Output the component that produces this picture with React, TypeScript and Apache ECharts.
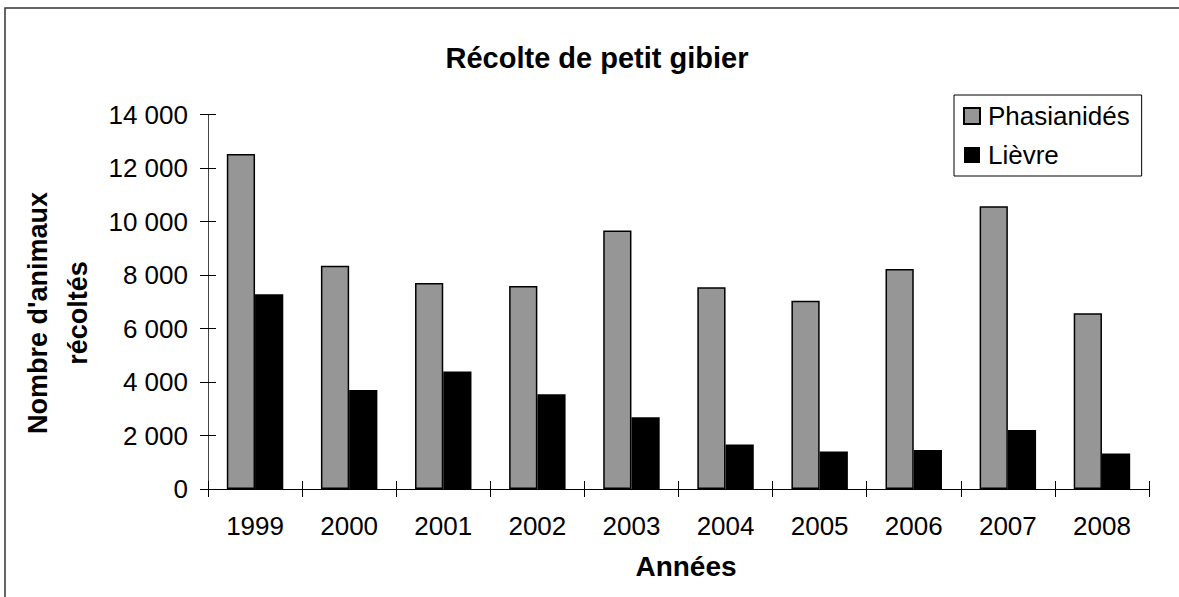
import React, { useEffect, useRef } from "react";
import * as echarts from "echarts";

const years = ["1999", "2000", "2001", "2002", "2003", "2004", "2005", "2006", "2007", "2008"];
const phasianides = [12520, 8350, 7700, 7590, 9660, 7540, 7040, 8220, 10570, 6570];
const lievre = [7280, 3700, 4390, 3540, 2680, 1660, 1400, 1460, 2210, 1330];
const yMin = 0;
const yMax = 14000;
const yInterval = 2000;

const FONT = "'Liberation Sans', Arial, sans-serif";
const fmt = (v: number) => String(v).replace(/\B(?=(\d{3})+(?!\d))/g, " ");

export default function App() {
  const ref = useRef<HTMLDivElement>(null);
  useEffect(() => {
    if (!ref.current) return;
    const chart = echarts.init(ref.current, undefined, { renderer: "svg" });
    const grid = { left: 208, top: 114.5, right: 30, bottom: 108, containLabel: false };
    chart.setOption({
      animation: false,
      backgroundColor: "#fff",
      textStyle: { fontFamily: FONT },
      title: {
        text: "Récolte de petit gibier",
        left: 592,
        top: 38,
        textAlign: "center",
        textStyle: { fontFamily: FONT, fontSize: 29, fontWeight: "bold", color: "#000" },
      },
      legend: {
        orient: "vertical",
        left: 954,
        top: 95,
        padding: [8, 12, 8, 9],
        itemWidth: 16,
        itemHeight: 16,
        itemGap: 13,
        borderColor: "#000",
        borderWidth: 1,
        icon: "rect",
        textStyle: { fontFamily: FONT, fontSize: 26, color: "#000", padding: [0, 0, 0, 3] },
        data: ["Phasianidés", "Lièvre"],
      },
      grid,
      xAxis: [
        {
          type: "category",
          data: years,
          axisLine: { lineStyle: { color: "#000", width: 1 } },
          axisTick: { show: true, length: 8, lineStyle: { color: "#000" } },
          axisLabel: { color: "#000", fontSize: 26, fontFamily: FONT, margin: 24 },
          splitLine: { show: false },
        },
        {
          type: "category",
          data: years,
          position: "bottom",
          axisLine: { show: false },
          axisTick: { show: true, inside: true, length: 8, lineStyle: { color: "#000" } },
          axisLabel: { show: false },
          splitLine: { show: false },
        },
      ],
      yAxis: [
        {
          type: "value",
          min: yMin,
          max: yMax,
          interval: yInterval,
          axisLine: { show: true, lineStyle: { color: "#444", width: 1 } },
          axisTick: { show: true, length: 8, lineStyle: { color: "#000" } },
          axisLabel: { color: "#000", fontSize: 26, fontFamily: FONT, margin: 20, formatter: fmt },
          splitLine: { show: false },
        },
        {
          type: "value",
          min: yMin,
          max: yMax,
          interval: yInterval,
          position: "left",
          axisLine: { show: false },
          axisTick: { show: true, inside: true, length: 8, lineStyle: { color: "#000" } },
          axisLabel: { show: false },
          splitLine: { show: false },
        },
      ],
      series: [
        {
          name: "Phasianidés",
          type: "bar",
          data: phasianides,
          barGap: "0%",
          barCategoryGap: "40%",
          itemStyle: { color: "#969696", borderColor: "#000", borderWidth: 1.5 },
        },
        {
          name: "Lièvre",
          type: "bar",
          data: lievre,
          barGap: "0%",
          barCategoryGap: "40%",
          itemStyle: { color: "#000" },
        },
      ],
      graphic: [
        {
          type: "rect",
          shape: { x: 5, y: 8, width: 1200, height: 620 },
          style: { fill: "none", stroke: "#333", lineWidth: 1.5 },
          silent: true,
        },
        {
          type: "text",
          x: 686,
          y: 566,
          style: {
            text: "Années",
            fontFamily: FONT,
            fontSize: 28,
            fontWeight: "bold",
            fill: "#000",
            textAlign: "center",
            textVerticalAlign: "middle",
          },
        },
        {
          type: "text",
          x: 58,
          y: 313,
          rotation: Math.PI / 2,
          style: {
            text: "Nombre d'animaux\nrécoltés",
            fontFamily: FONT,
            fontSize: 27,
            fontWeight: "bold",
            lineHeight: 40,
            fill: "#000",
            textAlign: "center",
            textVerticalAlign: "middle",
          },
        },
      ],
    });
    return () => chart.dispose();
  }, []);
  return (
    <div
      ref={ref}
      style={{ position: "fixed", left: 0, top: 0, width: 1179, height: 597 }}
    />
  );
}
